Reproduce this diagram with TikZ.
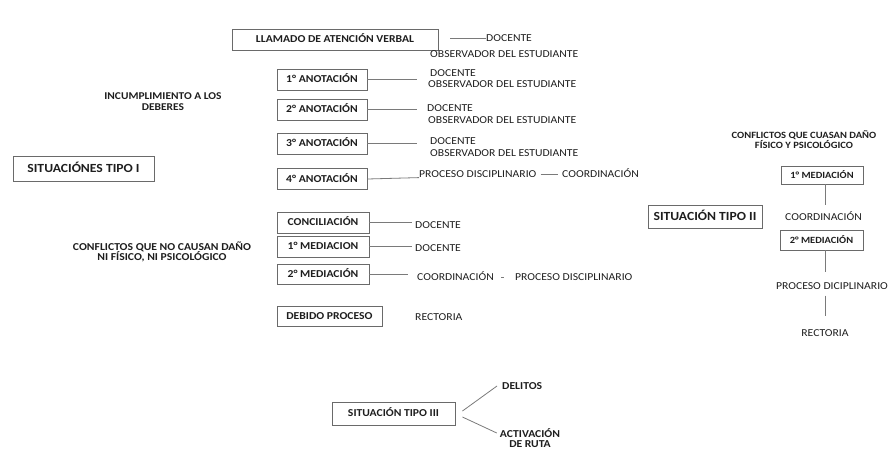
\documentclass[tikz,border=0pt]{standalone}
\usepackage{fontspec}
\setmainfont{Carlito}[FakeStretch=1.1]
\definecolor{txt}{HTML}{1E1E1E}
\definecolor{bord}{HTML}{6A6A6A}
\definecolor{ln}{HTML}{7A7A7A}
\newcommand\myfs[1]{\fontsize{#1}{#1}\selectfont}
\tikzset{
  box/.style={draw=bord, line width=0.9pt, inner sep=0pt, text=txt,
    text height=6.8pt, text depth=0pt, minimum height=21pt,
    font=\bfseries\myfs{10.6}},
  bigbox/.style={box, font=\bfseries\myfs{12.4}, text height=8pt},
  smallbox/.style={box, font=\bfseries\myfs{9.5}, text height=6.1pt},
  lbl/.style={inner sep=0pt, text=txt, text height=6.8pt, text depth=0pt,
    font=\myfs{10.6}, anchor=west},
  head/.style={inner sep=0pt, text=txt, align=center, font=\bfseries\myfs{10.6}},
  conn/.style={draw=ln, line width=0.8pt}
}
\begin{document}
\begin{tikzpicture}[x=1pt,y=-1pt]
\useasboundingbox (0,0) rectangle (891,450);
% ---- Situaciones tipo I
\node[bigbox, minimum width=141pt, minimum height=25pt] (sit1) at (83.5,168.5) {SITUACIÓNES TIPO I};
\node[head, font=\bfseries\myfs{10.4}] (incum) at (163,101.5) {\baselineskip=13pt INCUMPLIMIENTO A LOS\\DEBERES};
\node[head, font=\bfseries\myfs{10.6}] (confno) at (162,252) {CONFLICTOS QUE NO CAUSAN DAÑO\\NI FÍSICO, NI PSICOLÓGICO};

% llamado
\node[box, minimum width=206pt] (llam) at (335,39.5) {LLAMADO DE ATENCIÓN VERBAL};
\node[lbl] (d0) at (486,38) {DOCENTE};
\node[lbl] (o0) at (430,54) {OBSERVADOR DEL ESTUDIANTE};
\draw[conn] ([xshift=12pt]llam.east |- d0.west) -- (d0.west);

% anotaciones
\node[box, minimum width=90pt] (a1) at (322,79.5) {1° ANOTACIÓN};
\node[lbl] (d1) at (430,73) {DOCENTE};
\node[lbl] (o1) at (428,84) {OBSERVADOR DEL ESTUDIANTE};
\coordinate (e1) at (417,79.5);
\draw[conn] (a1.east) -- (e1);

\node[box, minimum width=90pt] (a2) at (322,109.5) {2° ANOTACIÓN};
\node[lbl] (d2) at (427,108) {DOCENTE};
\node[lbl] (o2) at (428,120) {OBSERVADOR DEL ESTUDIANTE};
\coordinate (e2) at (417,109.5);
\draw[conn] (a2.east) -- (e2);

\node[box, minimum width=90pt] (a3) at (322,143.5) {3° ANOTACIÓN};
\node[lbl] (d3) at (430,141) {DOCENTE};
\node[lbl] (o3) at (430,153) {OBSERVADOR DEL ESTUDIANTE};
\coordinate (e3) at (417,143.5);
\draw[conn] (a3.east) -- (e3);

\node[box, minimum width=90pt] (a4) at (322,179) {4° ANOTACIÓN};
\node[lbl] (p4) at (419,174) {PROCESO DISCIPLINARIO};
\node[lbl] (c4) at (562,174) {COORDINACIÓN};
\draw[conn] (a4.east) -- (p4.south west);
\draw[conn] ([xshift=4pt]p4.east) -- ([xshift=-4pt]c4.west);

% conciliacion / mediaciones
\node[box, minimum width=92pt] (conc) at (323,222.5) {CONCILIACIÓN};
\node[lbl] (dc) at (415,225) {DOCENTE};
\draw[conn] (conc.east) -- ([xshift=-3pt]conc.east -| dc.west);

\node[box, minimum width=92pt] (m1) at (323,246.5) {1° MEDIACION};
\node[lbl] (dm1) at (415,248) {DOCENTE};
\draw[conn] (m1.east) -- ([xshift=-3pt]m1.east -| dm1.west);

\node[box, minimum width=92pt, minimum height=20pt] (m2) at (323,274) {2° MEDIACIÓN};
\node[lbl] (cm2) at (417,277) {COORDINACIÓN};
\node[lbl] (pm2) at (515,277) {PROCESO DISCIPLINARIO};
\draw[conn] (m2.east) -- ([xshift=-9pt]m2.east -| cm2.west);
\draw[conn] ([xshift=10pt]cm2.east) -- ([xshift=-14pt]pm2.west);

\node[box, minimum width=105pt, minimum height=20pt] (deb) at (329.5,316) {DEBIDO PROCESO};
\node[lbl] (rd) at (415,317) {RECTORIA};

% ---- Situacion tipo II
\node[bigbox, minimum width=114pt, minimum height=23pt] (sit2) at (705,216.5) {SITUACIÓN TIPO II};
\node[head, font=\bfseries\myfs{9.6}] (confsi) at (804,139.5) {\baselineskip=11pt CONFLICTOS QUE CUASAN DAÑO\\FÍSICO Y PSICOLÓGICO};
\node[smallbox, minimum width=82pt, minimum height=18pt] (rm1) at (822,175) {1° MEDIACIÓN};
\node[lbl, anchor=center] (rco) at (823.5,217) {COORDINACIÓN};
\node[smallbox, minimum width=83pt, minimum height=20pt] (rm2) at (821.5,240) {2° MEDIACIÓN};
\node[lbl, anchor=center] (rpd) at (832,286) {PROCESO DICIPLINARIO};
\node[lbl, anchor=center] (rrec) at (825,333) {RECTORIA};
\coordinate (vx) at (825,0);
\draw[conn] (vx |- rm1.south) -- ([yshift=8pt]vx |- rco.north);
\draw[conn] (vx |- rm2.south) -- ([yshift=10pt]vx |- rpd.north);
\draw[conn] ([yshift=-6pt]vx |- rpd.south) -- ([yshift=13pt]vx |- rrec.north);

% ---- Situacion tipo III
\node[box, minimum width=123pt, minimum height=23pt] (sit3) at (393.5,413.5) {SITUACIÓN TIPO III};
\node[head, anchor=west] (del) at (502,386) {DELITOS};
\node[head, anchor=north] (act) at (530,428) {\baselineskip=12pt ACTIVACIÓN\\DE RUTA};
\draw[conn] ([xshift=7pt,yshift=2.5pt]sit3.east) -- ([xshift=-5pt]del.west);
\draw[conn] ([xshift=7pt,yshift=-3.5pt]sit3.east) -- ([xshift=-3pt,yshift=-5pt]act.north west);
\end{tikzpicture}
\end{document}
